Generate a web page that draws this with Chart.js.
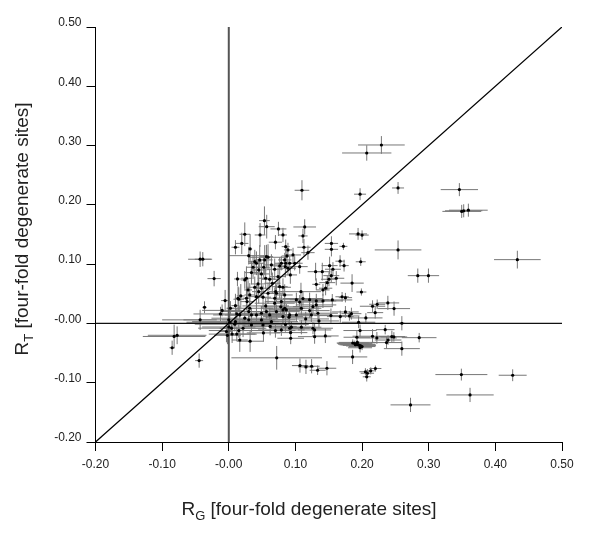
<!DOCTYPE html>
<html lang="en">
<head>
  <meta charset="UTF-8" />
  <title>RT vs RG at four-fold degenerate sites</title>
  <script src="https://cdn.jsdelivr.net/npm/chart.js@4.4.0"></script>
  <style>
    body { margin: 0; background: white; }
    canvas { display: block; }
  </style>
</head>
<body>
  <canvas id="skewChart" width="600" height="538"></canvas>

  <script>
    const tickValues = [-0.2, -0.1, 0, 0.1, 0.2, 0.3, 0.4, 0.5];
    const tickLabels = ['-0.20', '-0.10', '-0.00', '0.10', '0.20', '0.30', '0.40', '0.50'];
    const xTitle = ['R', 'G', ' [four-fold degenerate sites]'];
    const yTitle = ['R', 'T', ' [four-fold degenerate sites]'];

    // values, ten to a row
    const rgValues = [
      .229, .207, .197, .254, .346, .3495, .3525, .3595, .433, .194,
      .2, .172, .254, .198, .173, .167, .2836, .2996, .185, .199,
      .175, .17, .2387, .2227, .2157, .248, .2197, .175, .184, .181,
      .2057, .1948, .2597, .2347, .197, .2157, .2222, .2447, .2477, .2857,
      .239, .2367, .2597, .1922, .1858, .349, .426, .362, .2727, .1068,
      .1158, .1243, .1333, .1473, .0719, .205, .208, .213, .22, .207,
      .186, .189, .192, .194, .196, .198, .2, .193, .197, .19,
      -.043, -.039, -.022, -.0364, -.043, -.0775, -.082, -.085, -.0445, -.0055,
      -.0124, .0025, .01, .0195, .024, .0469, .0535, .0569, .0745, .0813,
      .07, .0854, .0888, .032, .03, .0464, .039, .0565, .1098, .1139,
      .1113, .1128, .1188, .154, .154, .1313, .1513, .1403, .1303, .1563,
      .1538, .1503, .1478, .1613, .1413, .1453, .1083, .1553, .1014, .1113,
      .1064, .1213, .1313, .1413, .0839, .0813, .0864, .078, .1089, .1213,
      .1263, .1313, .0914, .1014, .1154, .1239, .1338, .1533, .1673, .1353,
      .0903, .0939, .0914, .1089, .1263, .1288, .0789, .0929, .0929, .1288,
      .1449, .013, .024, .0289, .0139, .0265, .01, .0165, .034, .024,
      .0415, .049, .0565, .0315, .009, .0015, -.0035, .0214, .034, .0514,
      0, .01, .004, .012, .015, .03, .005, -.01, .069, .0839,
      .0764, .0704, .0924, .0849, .0415, .0364, .0449, .034, .0265, .049,
      .0554, .0614, .0439, .039, .049, .0449, .0539, .0589, .064, .0524,
      .0689, .0764, .0854, .0739, .0654, .0715, .0589, .0514, .0415, .0315,
      .018, .015, .0274, .0689, .0554, .0789, .0715, .0614, .0813, .064,
      .049, .0873, .0964, .0789, .0914, .0888, .1064, .0839, .0989, .0813,
      .0165, .032, .052, .012, 0, -.002, .03, .062, .07, .085
    ];
    const rtValues = [
      .301, .2875, .218, .2285, .2257, .189, .19, .191, .1076, .151,
      .149, .13, .124, .104, .0975, .105, .0806, .0806, .068, .053,
      .0435, .045, .0346, .0323, .029, .025, .0182, .0194, .0165, .0126,
      .0093, .002, .0003, -.0105, -.012, -.0216, -.0245, -.0222, -.0228, -.024,
      -.028, -.0323, -.0425, -.0233, -.0565, -.0863, -.0874, -.1206, -.1374, -.0711,
      -.0733, -.0722, -.079, -.0756, -.058, -.0815, -.084, -.08, -.076, -.09,
      -.033, -.034, -.035, -.036, -.037, -.038, -.039, -.032, -.041, -.036,
      .1083, .1083, .0756, .0273, .006, -.02, -.022, -.041, -.0627, .0385,
      .016, .0256, .1285, .135, .1504, .1492, .1734, .1632, .1594, .1492,
      .137, .1295, .124, .1256, .1143, .1071, .1042, .1126, .2246, .1627,
      .1476, .1285, .1194, .135, .125, .066, .0975, .0873, .0873, .0914,
      .0806, .0745, .0688, .0762, .0565, .0594, .0536, .0396, .04, .042,
      .036, .04, .038, .038, .0256, .0228, .0228, .028, .0256, .0216,
      .0283, .0312, .0143, .0143, .0076, .0143, .0172, .0132, .0115, .0042,
      .0105, -.0064, -.0081, -.0064, -.0081, -.011, -.011, -.0155, -.025, -.0223,
      -.0211, .075, .0734, .0565, .0425, .0425, .03, .0143, .0143, .0088,
      .0143, .0172, .02, .0256, -.0013, .002, -.0138, -.0081, -.0025, -.0025,
      .006, .003, -.008, .016, -.012, .02, -.018, .022, .0425, .048,
      .062, .0536, .0818, .0958, .1015, .0948, .0902, .0857, .0762, .0835,
      .0762, .0745, .0666, .061, .0594, .0536, .1071, .1116, .0987, .0948,
      .0914, .097, .1015, .0789, .0678, .0509, .0509, .0442, .0452, .048,
      .0464, .0408, .0368, .0341, .0295, .0368, .0199, .0143, .0115, .003,
      .0059, .1138, .1155, .1015, .1015, .0931, .0958, .1071, .1015, .061,
      -.028, -.03, -.016, -.018, -.006, -.02, .006, -.005, -.012, -.002
    ];
    const rgErrors = [
      .035, .037, .009, .009, .028, .029, .028, .029, .035, .0135,
      .01, .006, .035, .0075, .007, .007, .015, .016, .0175, .0075,
      .01, .01, .017, .012, .019, .024, .012, .02, .015, .015,
      .025, .025, .004, .014, .025, .03, .03, .02, .02, .026,
      .02, .023, .027, .02, .022, .039, .021, .0355, .03, .012,
      .012, .012, .012, .014, .068, .009, .01, .008, .009, .006,
      .024, .026, .028, .026, .025, .022, .02, .028, .018, .024,
      .018, .012, .01, .003, .025, .044, .047, .004, .006, .006,
      .004, .005, .006, .01, .008, .008, .008, .012, .012, .006,
      .01, .006, .006, .003, .03, .008, .01, .01, .011, .017,
      .007, .01, .01, .01, .01, .006, .012, .012, .012, .012,
      .012, .012, .012, .012, .01, .01, .03, .03, .03, .03,
      .035, .03, .03, .03, .03, .03, .025, .03, .03, .03,
      .03, .03, .035, .03, .035, .03, .03, .025, .02, .03,
      .035, .03, .03, .03, .03, .025, .035, .025, .02, .025,
      .02, .005, .006, .006, .005, .006, .006, .04, .04, .05,
      .04, .035, .03, .035, .06, .065, .01, .035, .03, .03,
      .1, .065, .05, .065, .045, .04, .035, .03, .012, .012,
      .012, .01, .01, .012, .012, .01, .012, .01, .008, .012,
      .012, .012, .01, .012, .012, .01, .012, .03, .012, .01,
      .012, .01, .012, .012, .012, .012, .012, .012, .01, .008,
      .006, .008, .01, .03, .035, .025, .035, .035, .03, .04,
      .04, .008, .012, .01, .012, .012, .012, .01, .012, .012,
      .012, .02, .025, .03, .04, .02, .04, .04, .03, .035
    ];
    const rtErrors = [
      .015, .013, .01, .01, .011, .011, .011, .011, .015, .01,
      .008, .006, .016, .007, .01, .01, .012, .012, .015, .006,
      .008, .008, .012, .008, .01, .012, .01, .01, .01, .008,
      .008, .01, .012, .008, .01, .012, .01, .01, .008, .008,
      .008, .01, .012, .012, .012, .01, .01, .012, .012, .012,
      .012, .012, .008, .012, .02, .006, .007, .006, .005, .008,
      .006, .005, .005, .005, .006, .005, .006, .005, .008, .004,
      .013, .012, .013, .01, .017, .015, .02, .012, .012, .018,
      .012, .012, .012, .018, .02, .02, .024, .02, .012, .012,
      .012, .012, .012, .025, .015, .025, .02, .02, .017, .013,
      .012, .014, .012, .012, .012, .01, .015, .015, .015, .012,
      .012, .012, .012, .012, .01, .012, .015, .01, .012, .012,
      .012, .012, .012, .012, .012, .01, .01, .012, .012, .012,
      .012, .012, .012, .012, .012, .012, .012, .012, .01, .01,
      .01, .01, .01, .012, .01, .012, .01, .012, .01, .012,
      .012, .012, .015, .015, .02, .02, .02, .015, .012, .015,
      .012, .012, .012, .015, .012, .012, .018, .015, .012, .012,
      .01, .008, .012, .01, .012, .012, .015, .01, .018, .018,
      .02, .015, .015, .018, .02, .02, .018, .02, .02, .018,
      .018, .018, .02, .018, .015, .02, .025, .022, .018, .02,
      .018, .015, .015, .015, .018, .015, .018, .02, .02, .02,
      .02, .02, .018, .015, .015, .012, .012, .012, .012, .012,
      .012, .015, .012, .012, .012, .012, .012, .012, .012, .015,
      .02, .018, .015, .012, .01, .015, .012, .015, .012, .012
    ];

    // error bars as one broken line per direction, a gap after each bar
    const gap = { x: NaN, y: NaN };
    const xBars = rgValues.flatMap((x, i) => [{ x: x - rgErrors[i], y: rtValues[i] }, { x: x + rgErrors[i], y: rtValues[i] }, gap]);
    const yBars = rgValues.flatMap((x, i) => [{ x: x, y: rtValues[i] - rtErrors[i] }, { x: x, y: rtValues[i] + rtErrors[i] }, gap]);
    const points = rgValues.map((x, i) => ({ x: x, y: rtValues[i] }));

    const refLine = (data, color, width, order) => ({
      type: 'line', data, borderColor: color, borderWidth: width, pointRadius: 0, order
    });

    // axis titles need a subscript, which the scale title cannot do
    const axisTitles = {
      id: 'axisTitles',
      afterDraw(chart) {
        const ctx = chart.ctx;
        const drawTitle = (parts, cx, baseline) => {
          ctx.font = '19px "Liberation Sans"';
          const w0 = ctx.measureText(parts[0]).width;
          const w2 = ctx.measureText(parts[2]).width;
          ctx.font = '13px "Liberation Sans"';
          const w1 = ctx.measureText(parts[1]).width;
          let x = cx - (w0 + w1 + w2) / 2;
          ctx.font = '19px "Liberation Sans"';
          ctx.fillText(parts[0], x, baseline);
          ctx.fillText(parts[2], x + w0 + w1, baseline);
          ctx.font = '13px "Liberation Sans"';
          ctx.fillText(parts[1], x + w0, baseline + 5);
        };
        ctx.save();
        ctx.fillStyle = '#222';
        ctx.textAlign = 'left';
        ctx.textBaseline = 'alphabetic';
        drawTitle(xTitle, 309, 515);
        ctx.translate(28, 229);
        ctx.rotate(-Math.PI / 2);
        drawTitle(yTitle, 0, 0);
        ctx.restore();
      }
    };

    const axisOptions = (padding, offset) => ({
      type: 'linear',
      min: -0.2,
      max: 0.5,
      afterBuildTicks: axis => { axis.ticks = tickValues.map(value => ({ value })); },
      ticks: {
        autoSkip: false,
        maxRotation: 0,
        padding,
        labelOffset: offset,
        color: '#222',
        font: { family: '"Liberation Sans"', size: 12 },
        callback: (value, i) => tickLabels[i]
      },
      grid: { drawOnChartArea: false, tickLength: 9, color: '#000' },
      border: { color: '#000', width: 1 }
    });

    new Chart(document.getElementById('skewChart'), {
      type: 'scatter',
      data: {
        datasets: [
          { type: 'scatter', data: points, pointRadius: 1.6, pointBorderWidth: 0, pointBackgroundColor: '#000', order: 1 },
          refLine([{ x: -0.2, y: -0.2 }, { x: 0.5, y: 0.5 }], '#000', 1.3, 2),
          refLine([{ x: -0.2, y: 0 }, { x: 0.5, y: 0 }], '#111', 1.3, 3),
          refLine([{ x: 0, y: -0.2 }, { x: 0, y: 0.5 }], '#555', 2, 4),
          refLine(xBars, '#777', 1, 5),
          refLine(yBars, '#777', 1, 6)
        ]
      },
      options: {
        responsive: false,
        animation: false,
        layout: { padding: { top: 27, right: 38 } },
        plugins: { legend: { display: false }, tooltip: { enabled: false } },
        scales: {
          x: Object.assign(axisOptions(6, 0), { afterFit: scale => { scale.height = 96; } }),
          y: Object.assign(axisOptions(5, -4), { afterFit: scale => { scale.width = 95.5; } })
        }
      },
      plugins: [axisTitles]
    });
  </script>
</body>
</html>
